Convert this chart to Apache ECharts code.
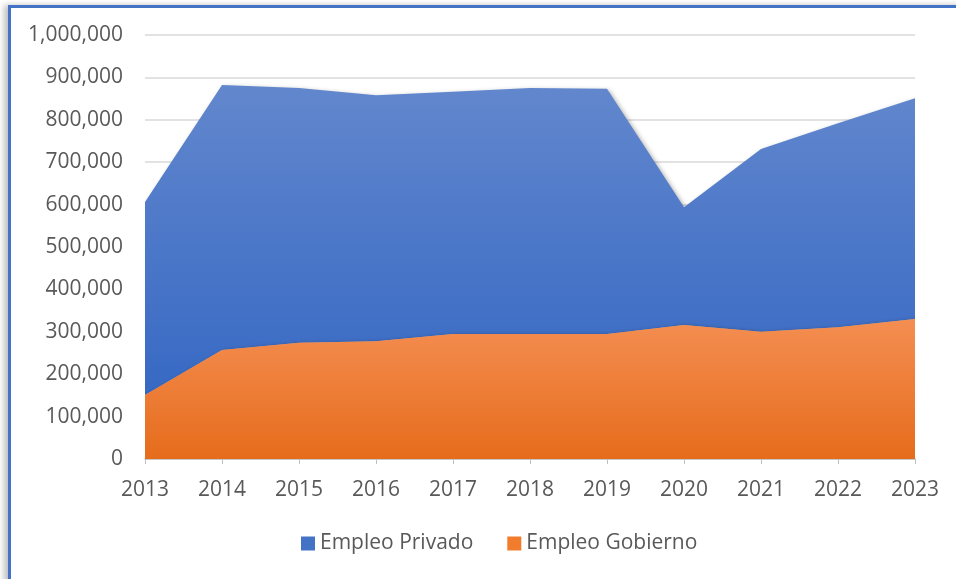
<!DOCTYPE html>
<html>
<head>
<meta charset="utf-8">
<script src="https://cdn.jsdelivr.net/npm/echarts@6/dist/echarts.min.js"></script>
<style>
  html, body { margin: 0; padding: 0; background: #fff; overflow: hidden; }
  #chart { width: 956px; height: 579px; }
  .frame {
    position: absolute; left: 8px; top: 5px; width: 1000px; height: 1000px;
    border-top: 3px solid #4472c4; border-left: 3px solid #4472c4;
    box-shadow: -4px 0 6px rgba(0,0,0,0.25);
    pointer-events: none;
  }
</style>
</head>
<body>
<div id="chart"></div>
<div class="frame"></div>
<script>
const years = ['2013', '2014', '2015', '2016', '2017', '2018', '2019', '2020', '2021', '2022', '2023']
// empleo gobierno (capa de abajo)
const gobierno = [151000, 257000, 274000, 278000, 295000, 295000, 295000, 316000, 300000, 311000, 330000]
// empleo privado (apilado encima)
const privado = [455000, 625000, 601000, 580000, 571000, 580000, 578000, 278000, 431000, 481000, 521000]
const yTicks = [0, 100000, 200000, 300000, 400000, 500000, 600000, 700000, 800000, 900000, 1000000]

const textColor = '#595959'
const font = 'Open Sans'

const chart = echarts.init(document.getElementById('chart'))

chart.setOption({
  animation: false,
  textStyle: { fontFamily: font },
  grid: { left: 145, right: 41, top: 35, bottom: 120 },
  legend: {
    bottom: 20,
    left: 296,
    itemWidth: 14,
    itemHeight: 14,
    itemGap: 34,
    icon: 'rect',
    textStyle: { color: textColor, fontSize: 21, fontFamily: font },
    data: ['Empleo Privado', 'Empleo Gobierno']
  },
  xAxis: {
    type: 'category',
    boundaryGap: false,
    data: years,
    axisLine: { lineStyle: { color: '#bfbfbf', width: 1.5 } },
    axisTick: { show: true, length: 5, lineStyle: { color: '#bfbfbf' } },
    axisLabel: { color: textColor, fontSize: 21, margin: 21 }
  },
  yAxis: {
    type: 'value',
    min: yTicks[0],
    max: yTicks[yTicks.length - 1],
    interval: 100000,
    axisLine: { show: false },
    axisTick: { show: false },
    splitLine: { lineStyle: { color: '#d9d9d9', width: 1.5 } },
    axisLabel: {
      color: textColor,
      fontSize: 21,
      margin: 22,
      formatter: v => v.toLocaleString('en-US')
    }
  },
  series: [
    {
      name: 'Empleo Gobierno',
      type: 'line',
      stack: 'total',
      data: gobierno,
      symbol: 'none',
      lineStyle: { width: 0 },
      itemStyle: { color: '#f07c2c' },
      areaStyle: {
        opacity: 1,
        color: new echarts.graphic.LinearGradient(0, 0, 0, 1, [
          { offset: 0, color: '#f48e52' },
          { offset: 1, color: '#e66c1c' }
        ]),
        shadowColor: 'rgba(0,0,0,0.35)',
        shadowBlur: 4,
        shadowOffsetX: 2,
        shadowOffsetY: 1
      },
      z: 3
    },
    {
      name: 'Empleo Privado',
      type: 'line',
      stack: 'total',
      data: privado,
      symbol: 'none',
      lineStyle: { width: 0 },
      itemStyle: { color: '#4472c4' },
      areaStyle: {
        opacity: 1,
        color: new echarts.graphic.LinearGradient(0, 0, 0, 1, [
          { offset: 0, color: '#6287cd' },
          { offset: 1, color: '#3769c4' }
        ]),
        shadowColor: 'rgba(0,0,0,0.35)',
        shadowBlur: 5,
        shadowOffsetX: 2,
        shadowOffsetY: 2
      },
      z: 2
    }
  ]
})
</script>
</body>
</html>
